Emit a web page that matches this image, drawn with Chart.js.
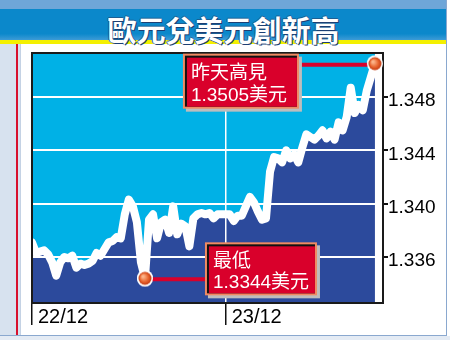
<!DOCTYPE html>
<html>
<head>
<meta charset="utf-8">
<script src="https://cdn.jsdelivr.net/npm/chart.js@4.4.1/dist/chart.umd.min.js"></script>
<style>
  html, body { margin: 0; padding: 0; }
  body { width: 450px; height: 340px; position: relative; overflow: hidden; background: #fff; }
  .abs { position: absolute; }
  #topStrip { left: 0; top: 0; width: 447px; height: 9px; background: #6fa6d8; }
  #band { left: 0; top: 9px; width: 447px; height: 31px; background: linear-gradient(#0b88cb 0, #0b88cb 80%, #3d9bd6 100%); }
  #yellow { left: 0; top: 40px; width: 447px; height: 4px; background: #f4f000; }
  #title { left: 0; top: 8px; width: 447px; height: 34px; line-height: 34px; text-align: center;
           font: bold 29px "Noto Sans CJK TC", sans-serif; color: #fff; letter-spacing: 0px;
           text-shadow: 1px 1px 0 #1c3f73, -1px 0 0 #1c5f93, 0 -1px 0 #1c5f93; }
  #leftStrip { left: 0; top: 44px; width: 20px; height: 291px; background: #d7e2ef; border-right: 1px solid #c4d2e4; }
  #redLine { left: 16px; top: 44px; width: 2px; height: 291px; background: #d8102c; }
  #rightEdge { left: 446px; top: 0; width: 1px; height: 336px; background: #8aa8cf; }
  #bottomEdge { left: 0; top: 335px; width: 447px; height: 1px; background: #8aa8cf; }
  #below { left: 0; top: 336px; width: 450px; height: 4px; background: #e4ebf4; }
  canvas { position: absolute; left: 0; top: 0; }
</style>
</head>
<body>
<div class="abs" id="topStrip"></div>
<div class="abs" id="band"></div>
<div class="abs" id="yellow"></div>
<div class="abs" id="title">歐元兌美元創新高</div>
<div class="abs" id="leftStrip"></div>
<div class="abs" id="redLine"></div>
<div class="abs" id="rightEdge"></div>
<div class="abs" id="bottomEdge"></div>
<div class="abs" id="below"></div>
<canvas id="chart" width="450" height="340"></canvas>
<script>
// EUR/USD, half-hour steps from 22/12 00:00
var rate = [
    1.3371, 1.3363, 1.3364, 1.3365, 1.3362, 1.3356, 1.3346, 1.3356, 1.3360, 1.3359,
    1.3361, 1.3352, 1.3355, 1.3354, 1.3355, 1.3357, 1.3363, 1.3361, 1.3366, 1.3371,
    1.3372, 1.3375, 1.3374, 1.3392, 1.3403, 1.3398, 1.3386, 1.3356, 1.3344, 1.3388,
    1.3392, 1.3374, 1.3386, 1.3388, 1.3378, 1.3398, 1.3377, 1.3385, 1.3383, 1.3368,
    1.3389, 1.3392, 1.3393, 1.3392, 1.3393, 1.3389, 1.3392, 1.3392, 1.3392, 1.3392,
    1.3387, 1.3391, 1.3391, 1.3398, 1.3405, 1.3401, 1.3394, 1.3388, 1.3389, 1.3424,
    1.3435, 1.3434, 1.3431, 1.3440, 1.3434, 1.3437, 1.3431, 1.3442, 1.3452, 1.3450,
    1.3448, 1.3451, 1.3455, 1.3449, 1.3454, 1.3448, 1.3461, 1.3455, 1.3465, 1.3487,
    1.3468, 1.3474, 1.3470, 1.3485, 1.3495, 1.3505
];
var dayLabels = ['22/12', '23/12'];
var dayStarts = [0, 48];
var xEnd = 87;
var yTicks = [1.336, 1.340, 1.344, 1.348];
var yMin = 1.33255, yMax = 1.3513;
var highText = ['昨天高見', '1.3505美元'];
var lowText = ['最低', '1.3344美元'];

var hiIdx = rate.indexOf(Math.max.apply(null, rate));
var loIdx = rate.indexOf(Math.min.apply(null, rate));
var points = rate.map(function (v, i) { return { x: i, y: v }; });

// round orange dot
var dot = document.createElement('canvas');
dot.width = 18; dot.height = 18;
(function () {
    var c = dot.getContext('2d');
    c.beginPath(); c.arc(9, 9, 8, 0, Math.PI * 2); c.fillStyle = '#fff'; c.fill();
    var g = c.createRadialGradient(7, 7, 1, 9, 9, 6.5);
    g.addColorStop(0, '#fbb48a'); g.addColorStop(0.6, '#e8642e'); g.addColorStop(1, '#c23a12');
    c.beginPath(); c.arc(9, 9, 6.5, 0, Math.PI * 2); c.fillStyle = g; c.fill();
})();

function drawBox(ctx, x, y, w, h, lines, lineY) {
    ctx.fillStyle = '#bdbdbd';
    ctx.fillRect(x + 3, y + 3, w, h);
    ctx.fillStyle = '#f08a62';
    ctx.fillRect(x, y, w, h);
    ctx.fillStyle = '#111';
    ctx.fillRect(x + 2, y + 2, w - 4, h - 4);
    ctx.fillStyle = '#d9002b';
    ctx.fillRect(x + 4, y + 4, w - 6, h - 6);
    ctx.fillStyle = '#fff';
    ctx.font = '19px "Liberation Sans", "Noto Sans CJK TC", sans-serif';
    ctx.textBaseline = 'middle';
    ctx.textAlign = 'left';
    lines.forEach(function (t, i) { ctx.fillText(t, x + 8, y + lineY[i]); });
}

var framePlugin = {
    id: 'frame',
    afterDatasetsDraw: function (chart) {
        var ctx = chart.ctx, a = chart.chartArea;
        ctx.save();
        ctx.strokeStyle = '#1a1a1a';
        ctx.lineWidth = 2;
        ctx.strokeRect(a.left, a.top, a.right - a.left, a.bottom - a.top);
        ctx.restore();
    },
    afterDraw: function (chart) {
        var ctx = chart.ctx;
        var meta = chart.getDatasetMeta(2);
        var hi = meta.data[hiIdx], lo = meta.data[loIdx];
        ctx.save();
        // connectors
        ctx.strokeStyle = '#d9002b';
        ctx.lineWidth = 4;
        ctx.beginPath();
        ctx.moveTo(hi.x - 76, hi.y + 1); ctx.lineTo(hi.x - 6, hi.y + 1);
        ctx.moveTo(lo.x + 6, lo.y + 1); ctx.lineTo(lo.x + 60, lo.y + 1);
        ctx.stroke();
        drawBox(ctx, hi.x - 192, hi.y - 10, 116, 55, highText, [20, 42]);
        drawBox(ctx, lo.x + 60, lo.y - 36, 112, 53, lowText, [19, 40]);
        // redraw dots over connectors
        [hi, lo].forEach(function (p) { ctx.drawImage(dot, p.x - 9, p.y - 9); });
        ctx.restore();
    }
};

new Chart(document.getElementById('chart'), {
    type: 'line',
    data: {
        datasets: [
            { data: points, borderColor: '#fff', borderWidth: 8, fill: 'start', backgroundColor: '#2c4a9c', pointRadius: 0 },
            { data: points, borderWidth: 0, borderColor: 'rgba(0,0,0,0)', fill: 'end', backgroundColor: '#00b1e6', pointRadius: 0 },
            { data: points, borderColor: '#dc0a2c', borderWidth: 4, fill: false,
              pointRadius: function (c) { return (c.dataIndex === hiIdx || c.dataIndex === loIdx) ? 7 : 0; },
              pointStyle: dot }
        ]
    },
    options: {
        responsive: false,
        animation: false,
        events: [],
        layout: { padding: { left: 32, top: 53, right: 0, bottom: 0 } },
        elements: { line: { tension: 0, borderJoinStyle: 'round', borderCapStyle: 'round' } },
        plugins: {
            legend: { display: false },
            tooltip: { enabled: false },
            filler: { drawTime: 'beforeDraw' }
        },
        scales: {
            x: {
                type: 'linear',
                min: 0,
                max: xEnd,
                afterBuildTicks: function (s) { s.ticks = dayStarts.map(function (v) { return { value: v }; }); },
                afterFit: function (s) { s.height = 37; },
                border: { display: false },
                grid: {
                    color: function (c) { return c.tick && c.tick.value === 0 ? 'rgba(0,0,0,0)' : '#ffffff'; },
                    lineWidth: 1.5,
                    tickColor: '#111',
                    tickLength: 22
                },
                ticks: {
                    autoSkip: false,
                    maxRotation: 0,
                    align: 'start',
                    labelOffset: 6,
                    padding: -20,
                    color: '#000',
                    font: { family: '"Liberation Sans", Arial, sans-serif', size: 20 },
                    callback: function (v) { return dayLabels[dayStarts.indexOf(v)]; }
                }
            },
            y: {
                position: 'right',
                min: yMin,
                max: yMax,
                afterBuildTicks: function (s) { s.ticks = yTicks.map(function (v) { return { value: v }; }); },
                afterFit: function (s) { s.width = 67; },
                border: { display: false },
                grid: { color: '#ffffff', lineWidth: 2, tickColor: '#111', tickLength: 5 },
                ticks: {
                    padding: 0,
                    labelOffset: 4,
                    color: '#000',
                    font: { family: '"Liberation Sans", Arial, sans-serif', size: 19 },
                    callback: function (v) { return v.toFixed(3); }
                }
            }
        }
    },
    plugins: [framePlugin]
});
</script>
</body>
</html>
